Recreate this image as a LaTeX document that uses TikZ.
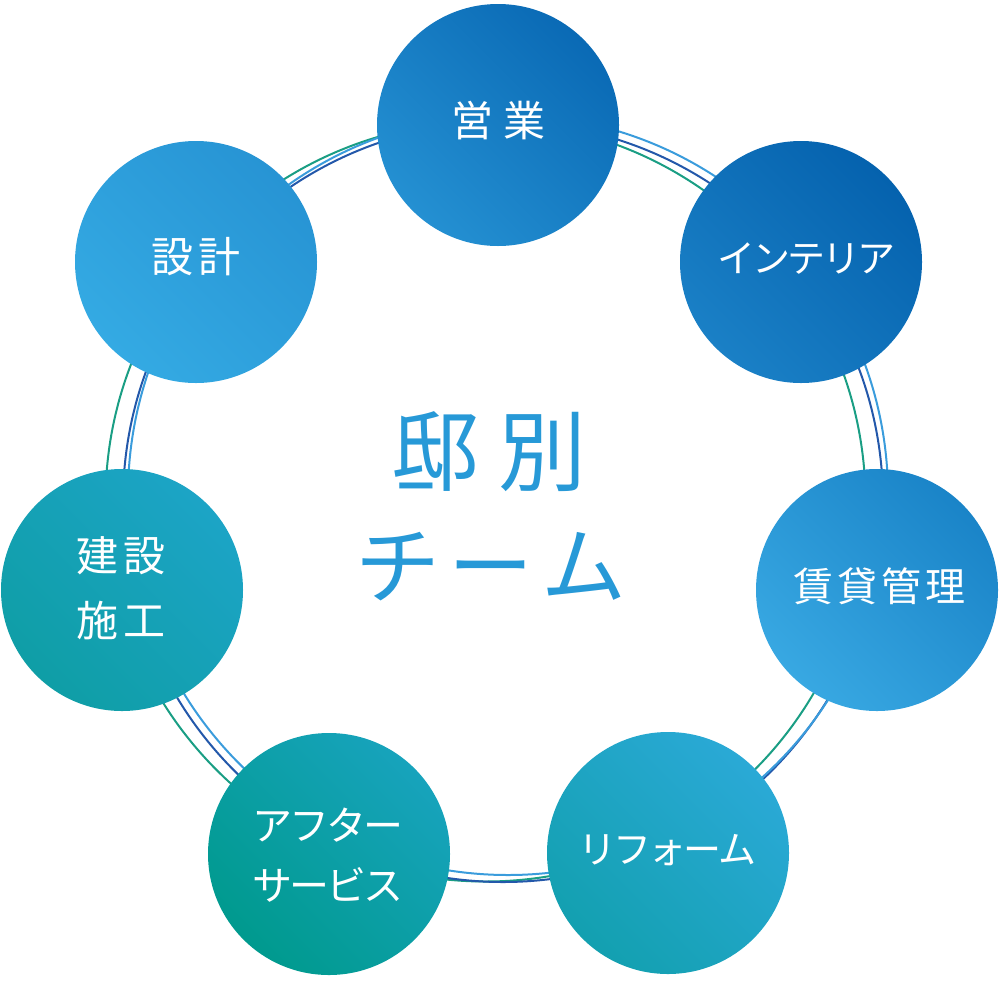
\documentclass[tikz,border=0pt]{standalone}
\usepackage{fontspec}
\newfontfamily\cjk{Noto Sans CJK JP}
\definecolor{ringteal}{HTML}{1A9E84}
\definecolor{ringdark}{HTML}{2358AA}
\definecolor{ringlight}{HTML}{3A9CDC}
\definecolor{centertext}{HTML}{2799D7}
\definecolor{eigyoA}{HTML}{2490D2}\definecolor{eigyoB}{HTML}{0A6AB5}
\definecolor{interA}{HTML}{1A80C6}\definecolor{interB}{HTML}{0562AE}
\definecolor{chinA}{HTML}{38A8E2}\definecolor{chinB}{HTML}{1A84C8}
\definecolor{refA}{HTML}{13A0B0}\definecolor{refB}{HTML}{2AA9D6}
\definecolor{aftA}{HTML}{009A8E}\definecolor{aftB}{HTML}{17A3BC}
\definecolor{kenA}{HTML}{0F9EA6}\definecolor{kenB}{HTML}{1CA4C6}
\definecolor{sekA}{HTML}{34AAE3}\definecolor{sekB}{HTML}{2794D4}
\begin{document}
\begin{tikzpicture}[x=1pt,y=-1pt,
  ring/.style={line width=2pt},
  bub/.style={circle, minimum size=242pt, inner sep=0pt, text=white, align=center},
  grad/.style 2 args={top color=#1, bottom color=#2, shading angle=135},
  fbig/.style={font=\cjk\fontsize{42}{65}\selectfont},
  fmid/.style={font=\cjk\fontsize{40}{60}\selectfont},
  fkat/.style={font=\cjk\fontsize{38}{40}\selectfont},
  ]
\useasboundingbox (0,0) rectangle (1000,980);
% rings
\coordinate (rt) at (485.5,501.5);
\coordinate (rd) at (503,502);
\coordinate (rl) at (508,495);
\draw[ring, ringteal] (rt) circle (380);
\draw[ring, ringdark] (rd) circle (380);
\draw[ring, ringlight] (rl) circle (380);
% bubbles
\node[bub, grad={eigyoA}{eigyoB}] (eigyo) at (498,125) {};
\node[bub, grad={interA}{interB}] (interior) at (801,262) {};
\node[bub, grad={chinA}{chinB}] (chintai) at (877,590) {};
\node[bub, grad={refA}{refB}] (reform) at (668,853) {};
\node[bub, grad={aftA}{aftB}] (after) at (329,854) {};
\node[bub, grad={kenA}{kenB}] (kensetsu) at (122,590) {};
\node[bub, grad={sekA}{sekB}] (sekkei) at (196,262) {};
% labels
\node[fbig, text=white] (teigyo) at (498,121) {営\hspace{10pt}業};
\node[fkat, text=white] (tinterior) at (806,259) {イ\hspace{-3pt}ン\hspace{-3pt}テ\hspace{-3pt}リ\hspace{-3pt}ア};
\node[font=\cjk\fontsize{40}{50}\selectfont, text=white] (tchintai) at (879,586) {賃\hspace{4pt}貸\hspace{4pt}管\hspace{4pt}理};
\node[fkat, text=white] (treform) at (667,850) {リ\hspace{-3pt}フ\hspace{-3pt}ォ\hspace{-3pt}ー\hspace{-3pt}ム};
\node[fmid, text=white, align=center] (tafter) at (328,855) {ア\hspace{-3pt}フ\hspace{-3pt}タ\hspace{-3pt}ー\\サ\hspace{-3pt}ー\hspace{-3pt}ビ\hspace{-3pt}ス};
\node[fbig, text=white, align=center] (tkensetsu) at (121,588) {建\hspace{6pt}設\\施\hspace{6pt}工};
\node[fbig, text=white] (tsekkei) at (196,257) {設\hspace{6pt}計};
% centre
\node[font=\cjk\fontsize{88}{100}\selectfont, text=centertext] (tei) at (489,452) {邸\hspace{20pt}別};
\node[font=\cjk\fontsize{85}{100}\selectfont, text=centertext] (team) at (491,567) {チ\hspace{8pt}ー\hspace{8pt}ム};
\end{tikzpicture}
\end{document}
